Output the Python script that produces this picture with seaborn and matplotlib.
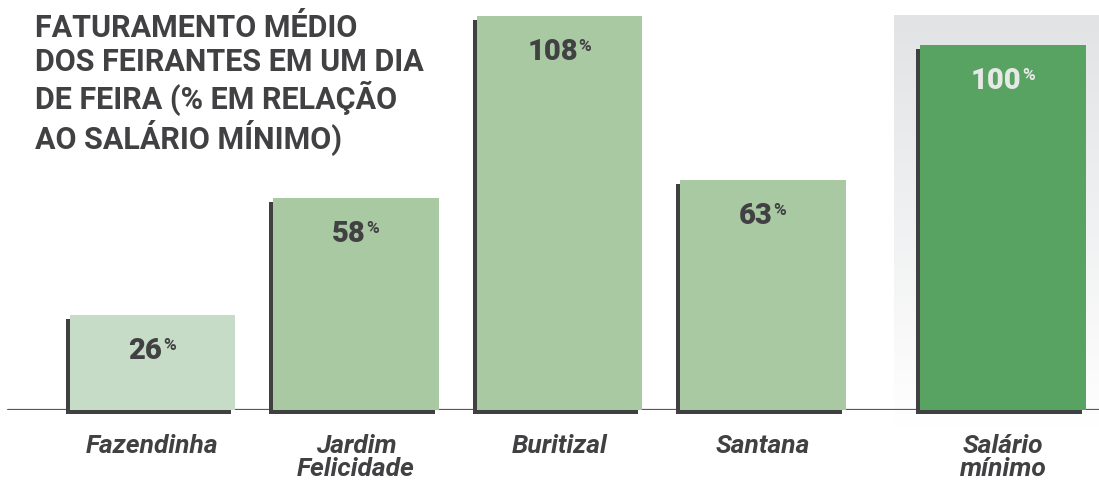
import numpy as np
import pandas as pd
import matplotlib.pyplot as plt
import matplotlib.transforms as mtransforms
import seaborn as sns

# =========================
# Data
# =========================
categorias = ["Fazendinha", "Jardim\nFelicidade", "Buritizal", "Santana", "Salário\nmínimo"]
valores = [26, 58, 108, 63, 100]
posicoes = [0, 1, 2, 3, 4.18]
cores = ["#c6dcc6", "#a8c9a2", "#a8c9a2", "#a8c9a2", "#58a262"]
cores_rotulo = ["#414143", "#414143", "#414143", "#414143", "#e6e9e7"]

titulo = "FATURAMENTO MÉDIO\nDOS FEIRANTES EM UM DIA\nDE FEIRA (% EM RELAÇÃO\nAO SALÁRIO MÍNIMO)"

df = pd.DataFrame({"pos": posicoes, "valor": valores, "cat": categorias})

# =========================
# Figure
# =========================
sns.set_style("white")
plt.rcParams["font.family"] = ["Roboto", "DejaVu Sans"]

W, H = 1099, 482
fig = plt.figure(figsize=(W / 100, H / 100), dpi=100)
base_px = 410
px_por_unidade = 3.65
ymax = 110
ax = fig.add_axes([0, (H - base_px) / H, 1, ymax * px_por_unidade / H])

larg_px = 203.5
ax.set_xlim(-152.5 / larg_px, (W - 152.5) / larg_px)
ax.set_ylim(0, ymax)

# gray gradient panel behind the last bar
grad = np.linspace(0, 1, 256).reshape(-1, 1)
ax.imshow(
    grad,
    cmap=sns.blend_palette(["#e2e3e5", "#ffffff"], as_cmap=True),
    extent=[(894 - 152.5) / larg_px, (W - 152.5) / larg_px, -20 / px_por_unidade, (base_px - 16) / px_por_unidade],
    origin="upper",
    aspect="auto",
    zorder=0,
    clip_on=False,
)

# baseline
ax.axhline(0, xmin=8 / W, xmax=1, color="#58585a", lw=1.6, zorder=1)

# shadow bars
sns.barplot(
    data=df, x="pos", y="valor", native_scale=True, width=0.815,
    color="#404042", saturation=1, ax=ax, zorder=2,
)
n_sombra = len(ax.patches)
desloc = mtransforms.ScaledTranslation(-4 / 100, -4 / 100, fig.dpi_scale_trans)
for p in ax.patches[:n_sombra]:
    p.set_transform(ax.transData + desloc)
    p.set_clip_on(False)
    p.set_zorder(2)

# main bars
sns.barplot(
    data=df, x="pos", y="valor", hue="cat", palette=cores, native_scale=True,
    width=0.815, dodge=False, saturation=1, legend=False, ax=ax,
)
for p in ax.patches[n_sombra:]:
    p.set_zorder(3)
    p.set_linewidth(0)
for p in ax.patches[:n_sombra]:
    p.set_linewidth(0)

# value labels
for x, v, c in zip(posicoes, valores, cores_rotulo):
    t = ax.annotate(
        f"{v}", xy=(x, v), xytext=(-5, -26), textcoords="offset points",
        ha="center", va="center", fontsize=21, fontweight="heavy", color=c, zorder=5,
    )
    ax.annotate(
        "%", xy=(1, 1), xycoords=t, xytext=(0.5, -0.5), textcoords="offset points",
        ha="left", va="top", fontsize=12.5, fontweight="bold", color=c, zorder=5,
    )

# category labels
ax.set_xticks(posicoes)
ax.set_xticklabels(categorias, fontsize=19, fontweight="bold", fontstyle="italic",
                   color="#414143", linespacing=0.95)
ax.tick_params(axis="x", length=0, pad=17)
ax.set_yticks([])
ax.set_xlabel("")
ax.set_ylabel("")
sns.despine(ax=ax, left=True, bottom=True)

# title
fig.text(35 / W, 1 - 13 / H, titulo, ha="left", va="top", fontsize=22,
         fontweight="bold", color="#414143", linespacing=1.15)

fig.savefig("out.png", dpi=100)
